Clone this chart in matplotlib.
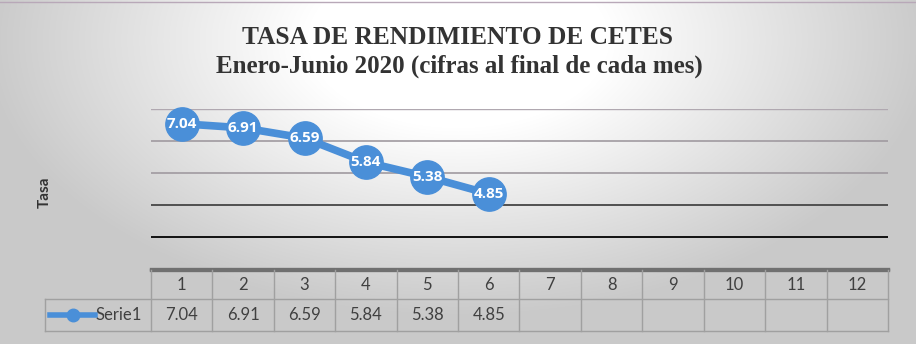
import numpy as np
import matplotlib
matplotlib.use("Agg")
import matplotlib.pyplot as plt
from matplotlib.lines import Line2D

# ---------------- data ----------------
months = list(range(1, 13))
values = [7.04, 6.91, 6.59, 5.84, 5.38, 4.85]
series_name = "Serie1"
title = "TASA DE RENDIMIENTO DE CETES"
subtitle = "Enero-Junio 2020 (cifras al final de cada mes)"
y_label = "Tasa"
y_min, y_max = 2.5, 7.5
grid_values = [7.5, 6.5, 5.5, 4.5, 3.5]

W, H = 916, 344
fig = plt.figure(figsize=(W / 100, H / 100), dpi=100)

def px(x0, y0, x1, y1):
    return [x0 / W, 1 - y1 / H, (x1 - x0) / W, (y1 - y0) / H]

# ---------------- background gradient ----------------
bg = fig.add_axes([0, 0, 1, 1], zorder=-10)
yy, xx = np.mgrid[0:H, 0:W]
r = np.sqrt(((xx - 458) / 430.0) ** 2 + ((yy - 40) / 250.0) ** 2)
t = np.clip((r - 0.35) / 0.75, 0, 1)
lo = np.array([1.0, 1.0, 1.0])
hi = np.array([0.79, 0.79, 0.79])
img = lo[None, None, :] * (1 - t[..., None]) + hi[None, None, :] * t[..., None]
bg.imshow(img, extent=[0, W, H, 0], aspect="auto")
bg.set_xlim(0, W)
bg.set_ylim(H, 0)
bg.plot([0, W], [2, 2], color="#b8a8b8", lw=1)
bg.axis("off")

# ---------------- titles ----------------
fig.text(458 / W, 1 - 37 / H, title, ha="center", va="center",
         family="Liberation Serif", fontweight="bold", fontsize=18.3, color="#333333")
fig.text(459 / W, 1 - 66 / H, subtitle, ha="center", va="center",
         family="Liberation Serif", fontweight="bold", fontsize=18, color="#333333")
fig.text(45 / W, 1 - 192 / H, y_label, ha="center", va="center", rotation=90,
         family="Lato", fontweight="bold", fontsize=11, color="#333333")

# ---------------- plot area ----------------
ax = fig.add_axes(px(151, 109, 888, 269))
ax.set_xlim(0.5, 12.5)
ax.set_ylim(y_min, y_max)
ax.patch.set_alpha(0)
for s in ax.spines.values():
    s.set_visible(False)
ax.set_xticks([])
ax.set_yticks([])

grid_colors = ["#b0a8b0", "#a09aa0", "#a09aa0", "#505050", "#111111"]
grid_widths = [1.0, 1.2, 1.2, 1.4, 1.4]
for gv, gc, gw in zip(grid_values, grid_colors, grid_widths):
    ax.axhline(gv, color=gc, lw=gw, zorder=1)
ax.axhline(y_min, color="#707070", lw=2.4, zorder=1, clip_on=False)

blue = "#4a8fd8"
xs = months[:len(values)]
ax.plot(xs, values, color=blue, lw=5.5, marker="o", markersize=24,
        markerfacecolor=blue, markeredgecolor=blue, zorder=3, clip_on=False,
        solid_capstyle="round")
for x, v in zip(xs, values):
    ax.text(x, v, f"{v:.2f}", ha="center", va="center", color="white",
            family="Open Sans", fontweight="bold", fontsize=11, zorder=4)

# ---------------- data table ----------------
tax = fig.add_axes(px(151, 270, 888, 331))
tax.set_xlim(0.5, 12.5)
tax.set_ylim(0, 61)
tax.patch.set_alpha(0)
tax.axis("off")
cell_w = 737 / 12.0
leg_left = 0.5 - (151 - 45) / cell_w
lc = "#a0a0a0"
row_split = 32
# horizontal lines
tax.plot([0.5, 12.5], [61, 61], color="#707070", lw=2.4, clip_on=False)
tax.plot([leg_left, 12.5], [row_split, row_split], color=lc, lw=1, clip_on=False)
tax.plot([leg_left, 12.5], [0, 0], color=lc, lw=1, clip_on=False)
# vertical lines
for k in range(13):
    xk = 0.5 + k
    tax.plot([xk, xk], [0, 61], color=lc, lw=1, clip_on=False)
tax.plot([leg_left, leg_left], [0, row_split], color=lc, lw=1, clip_on=False)

tcol = "#404040"
for m in months:
    tax.text(m, 46.5, str(m), ha="center", va="center", family="Lato",
             fontsize=12, color=tcol)
for m, v in zip(xs, values):
    tax.text(m, 16, f"{v:.2f}", ha="center", va="center", family="Lato",
             fontsize=12, color=tcol)

# legend key inside the table
lx0 = leg_left + 5 / cell_w
lx1 = leg_left + 50 / cell_w
tax.add_line(Line2D([lx0, lx1], [16, 16], color=blue, lw=4, clip_on=False))
tax.add_line(Line2D([(lx0 + lx1) / 2], [16], color=blue, marker="o",
                    markersize=9, clip_on=False))
tax.text(leg_left + 51 / cell_w, 16, series_name, ha="left", va="center",
         family="Lato", fontsize=12, color=tcol)

fig.savefig("out.png", dpi=100)
